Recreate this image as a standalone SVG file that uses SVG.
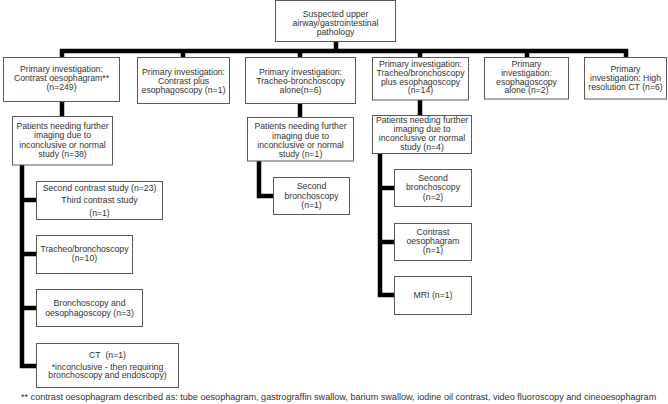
<svg xmlns="http://www.w3.org/2000/svg" width="668" height="404" viewBox="0 0 668 404">
<style>
.box{fill:#fff;stroke:#5a5a5a;stroke-width:1}
.t{font-family:"Liberation Sans",Arial,sans-serif;font-size:8.7px;fill:#333;text-anchor:middle}
.fn{font-family:"Liberation Sans",Arial,sans-serif;font-size:9.1px;fill:#333}
.c{stroke:#000;stroke-width:4.5;fill:none;stroke-linejoin:miter}
</style>
<rect width="668" height="404" fill="#fff"/>
<g id="connectors">
<path class="c" d="M336 41 V51"/>
<path class="c" d="M62 57 V51 H626 V57"/>
<path class="c" d="M183 51 V57 M300 51 V57 M420 51 V57 M527 51 V57"/>
<path class="c" d="M62 101 V116"/>
<path class="c" d="M22 165 V366 H36 M22 200 H36 M22 254 H36 M22 308 H36"/>
<path class="c" d="M300 103 V117"/>
<path class="c" d="M259 161 V196 H273"/>
<path class="c" d="M420 100 V115"/>
<path class="c" d="M380 153 V295 H394 M380 188 H394 M380 242 H394"/>
</g>
<g id="root">
<rect class="box" x="275.5" y="0.5" width="120" height="41"/>
<text class="t" x="335.5" y="17">Suspected upper</text>
<text class="t" x="335.5" y="26">airway/gastrointestinal</text>
<text class="t" x="335.5" y="35">pathology</text>
</g>
<g id="p1">
<rect class="box" x="3.5" y="57.5" width="116" height="44"/>
<text class="t" x="61.5" y="71.5">Primary investigation:</text>
<text class="t" x="61.5" y="80.8">Contrast oesophagram**</text>
<text class="t" x="61.5" y="90">(n=249)</text>
</g>
<g id="p2">
<rect class="box" x="137.5" y="57.5" width="92" height="46"/>
<text class="t" x="183.5" y="74.7">Primary investigation:</text>
<text class="t" x="183.5" y="84">Contrast plus</text>
<text class="t" x="183.5" y="93.2">esophagoscopy (n=1)</text>
</g>
<g id="p3">
<rect class="box" x="245.5" y="57.5" width="110" height="46"/>
<text class="t" x="300.5" y="74.7">Primary investigation:</text>
<text class="t" x="300.5" y="84">Tracheo-bronchoscopy</text>
<text class="t" x="300.5" y="93.2">alone(n=6)</text>
</g>
<g id="p4">
<rect class="box" x="372.5" y="57.5" width="96" height="42.5"/>
<text class="t" x="420.5" y="67">Primary investigation:</text>
<text class="t" x="420.5" y="75.8">Tracheo/bronchoscopy</text>
<text class="t" x="420.5" y="84.6">plus esophagoscopy</text>
<text class="t" x="420.5" y="93.4">(n=14)</text>
</g>
<g id="p5">
<rect class="box" x="484.5" y="57.5" width="84" height="41.5"/>
<text class="t" x="526.5" y="67">Primary</text>
<text class="t" x="526.5" y="75.8">investigation:</text>
<text class="t" x="526.5" y="84.6">esophagoscopy</text>
<text class="t" x="526.5" y="93.4">alone (n=2)</text>
</g>
<g id="p6">
<rect class="box" x="584.5" y="57.5" width="82" height="41.5"/>
<text class="t" x="625.5" y="72.3">Primary</text>
<text class="t" x="625.5" y="81.3">investigation: High</text>
<text class="t" x="625.5" y="90.3">resolution CT (n=6)</text>
</g>
<g id="s1">
<rect class="box" x="12.5" y="116.5" width="100" height="48.5"/>
<text class="t" x="62.5" y="128.5">Patients needing further</text>
<text class="t" x="62.5" y="138">imaging due to</text>
<text class="t" x="62.5" y="147.5">inconclusive or normal</text>
<text class="t" x="62.5" y="157">study (n=38)</text>
</g>
<g id="s3">
<rect class="box" x="247.5" y="117.5" width="106" height="43.5"/>
<text class="t" x="300.5" y="129">Patients needing further</text>
<text class="t" x="300.5" y="138.5">imaging due to</text>
<text class="t" x="300.5" y="148">inconclusive or normal</text>
<text class="t" x="300.5" y="157">study (n=1)</text>
</g>
<g id="s4">
<rect class="box" x="372.5" y="115.5" width="99" height="38"/>
<text class="t" x="422" y="123">Patients needing further</text>
<text class="t" x="422" y="132">imaging due to</text>
<text class="t" x="422" y="141.3">inconclusive or normal</text>
<text class="t" x="422" y="150.3">study (n=4)</text>
</g>
<g id="l1">
<rect class="box" x="36.5" y="181.5" width="126" height="38"/>
<text class="t" x="99.5" y="190.7">Second contrast study (n=23)</text>
<text class="t" x="99.5" y="203.3">Third contrast study</text>
<text class="t" x="99.5" y="215.7">(n=1)</text>
</g>
<g id="l2">
<rect class="box" x="36.5" y="235.5" width="96" height="38"/>
<text class="t" x="84.5" y="252">Tracheo/bronchoscopy</text>
<text class="t" x="84.5" y="261.3">(n=10)</text>
</g>
<g id="l3">
<rect class="box" x="36.5" y="289.5" width="106" height="37"/>
<text class="t" x="89.5" y="306.3">Bronchoscopy and</text>
<text class="t" x="89.5" y="315.7">oesophagoscopy (n=3)</text>
</g>
<g id="l4">
<rect class="box" x="36.5" y="343.5" width="142" height="44"/>
<text class="t" x="107.5" y="358">CT&#160; (n=1)</text>
<text class="t" x="107.5" y="369.5">*inconclusive - then requiring</text>
<text class="t" x="107.5" y="378.3">bronchoscopy and endoscopy)</text>
</g>
<g id="m1">
<rect class="box" x="273.5" y="177.5" width="76" height="37"/>
<text class="t" x="311.5" y="189">Second</text>
<text class="t" x="311.5" y="198.5">bronchoscopy</text>
<text class="t" x="311.5" y="207.5">(n=1)</text>
</g>
<g id="r1">
<rect class="box" x="394.5" y="169.5" width="77" height="37"/>
<text class="t" x="433" y="181.3">Second</text>
<text class="t" x="433" y="190.3">bronchoscopy</text>
<text class="t" x="433" y="199.7">(n=2)</text>
</g>
<g id="r2">
<rect class="box" x="394.5" y="223.5" width="77" height="37"/>
<text class="t" x="433" y="235">Contrast</text>
<text class="t" x="433" y="244">oesophagram</text>
<text class="t" x="433" y="253">(n=1)</text>
</g>
<g id="r3">
<rect class="box" x="394.5" y="276.5" width="77" height="38"/>
<text class="t" x="433" y="298">MRI (n=1)</text>
</g>
<text class="fn" x="21" y="400">** contrast oesophagram described as: tube oesophagram, gastrograffin swallow, barium swallow, iodine oil contrast, video fluoroscopy and cineoesophagram</text>
</svg>
